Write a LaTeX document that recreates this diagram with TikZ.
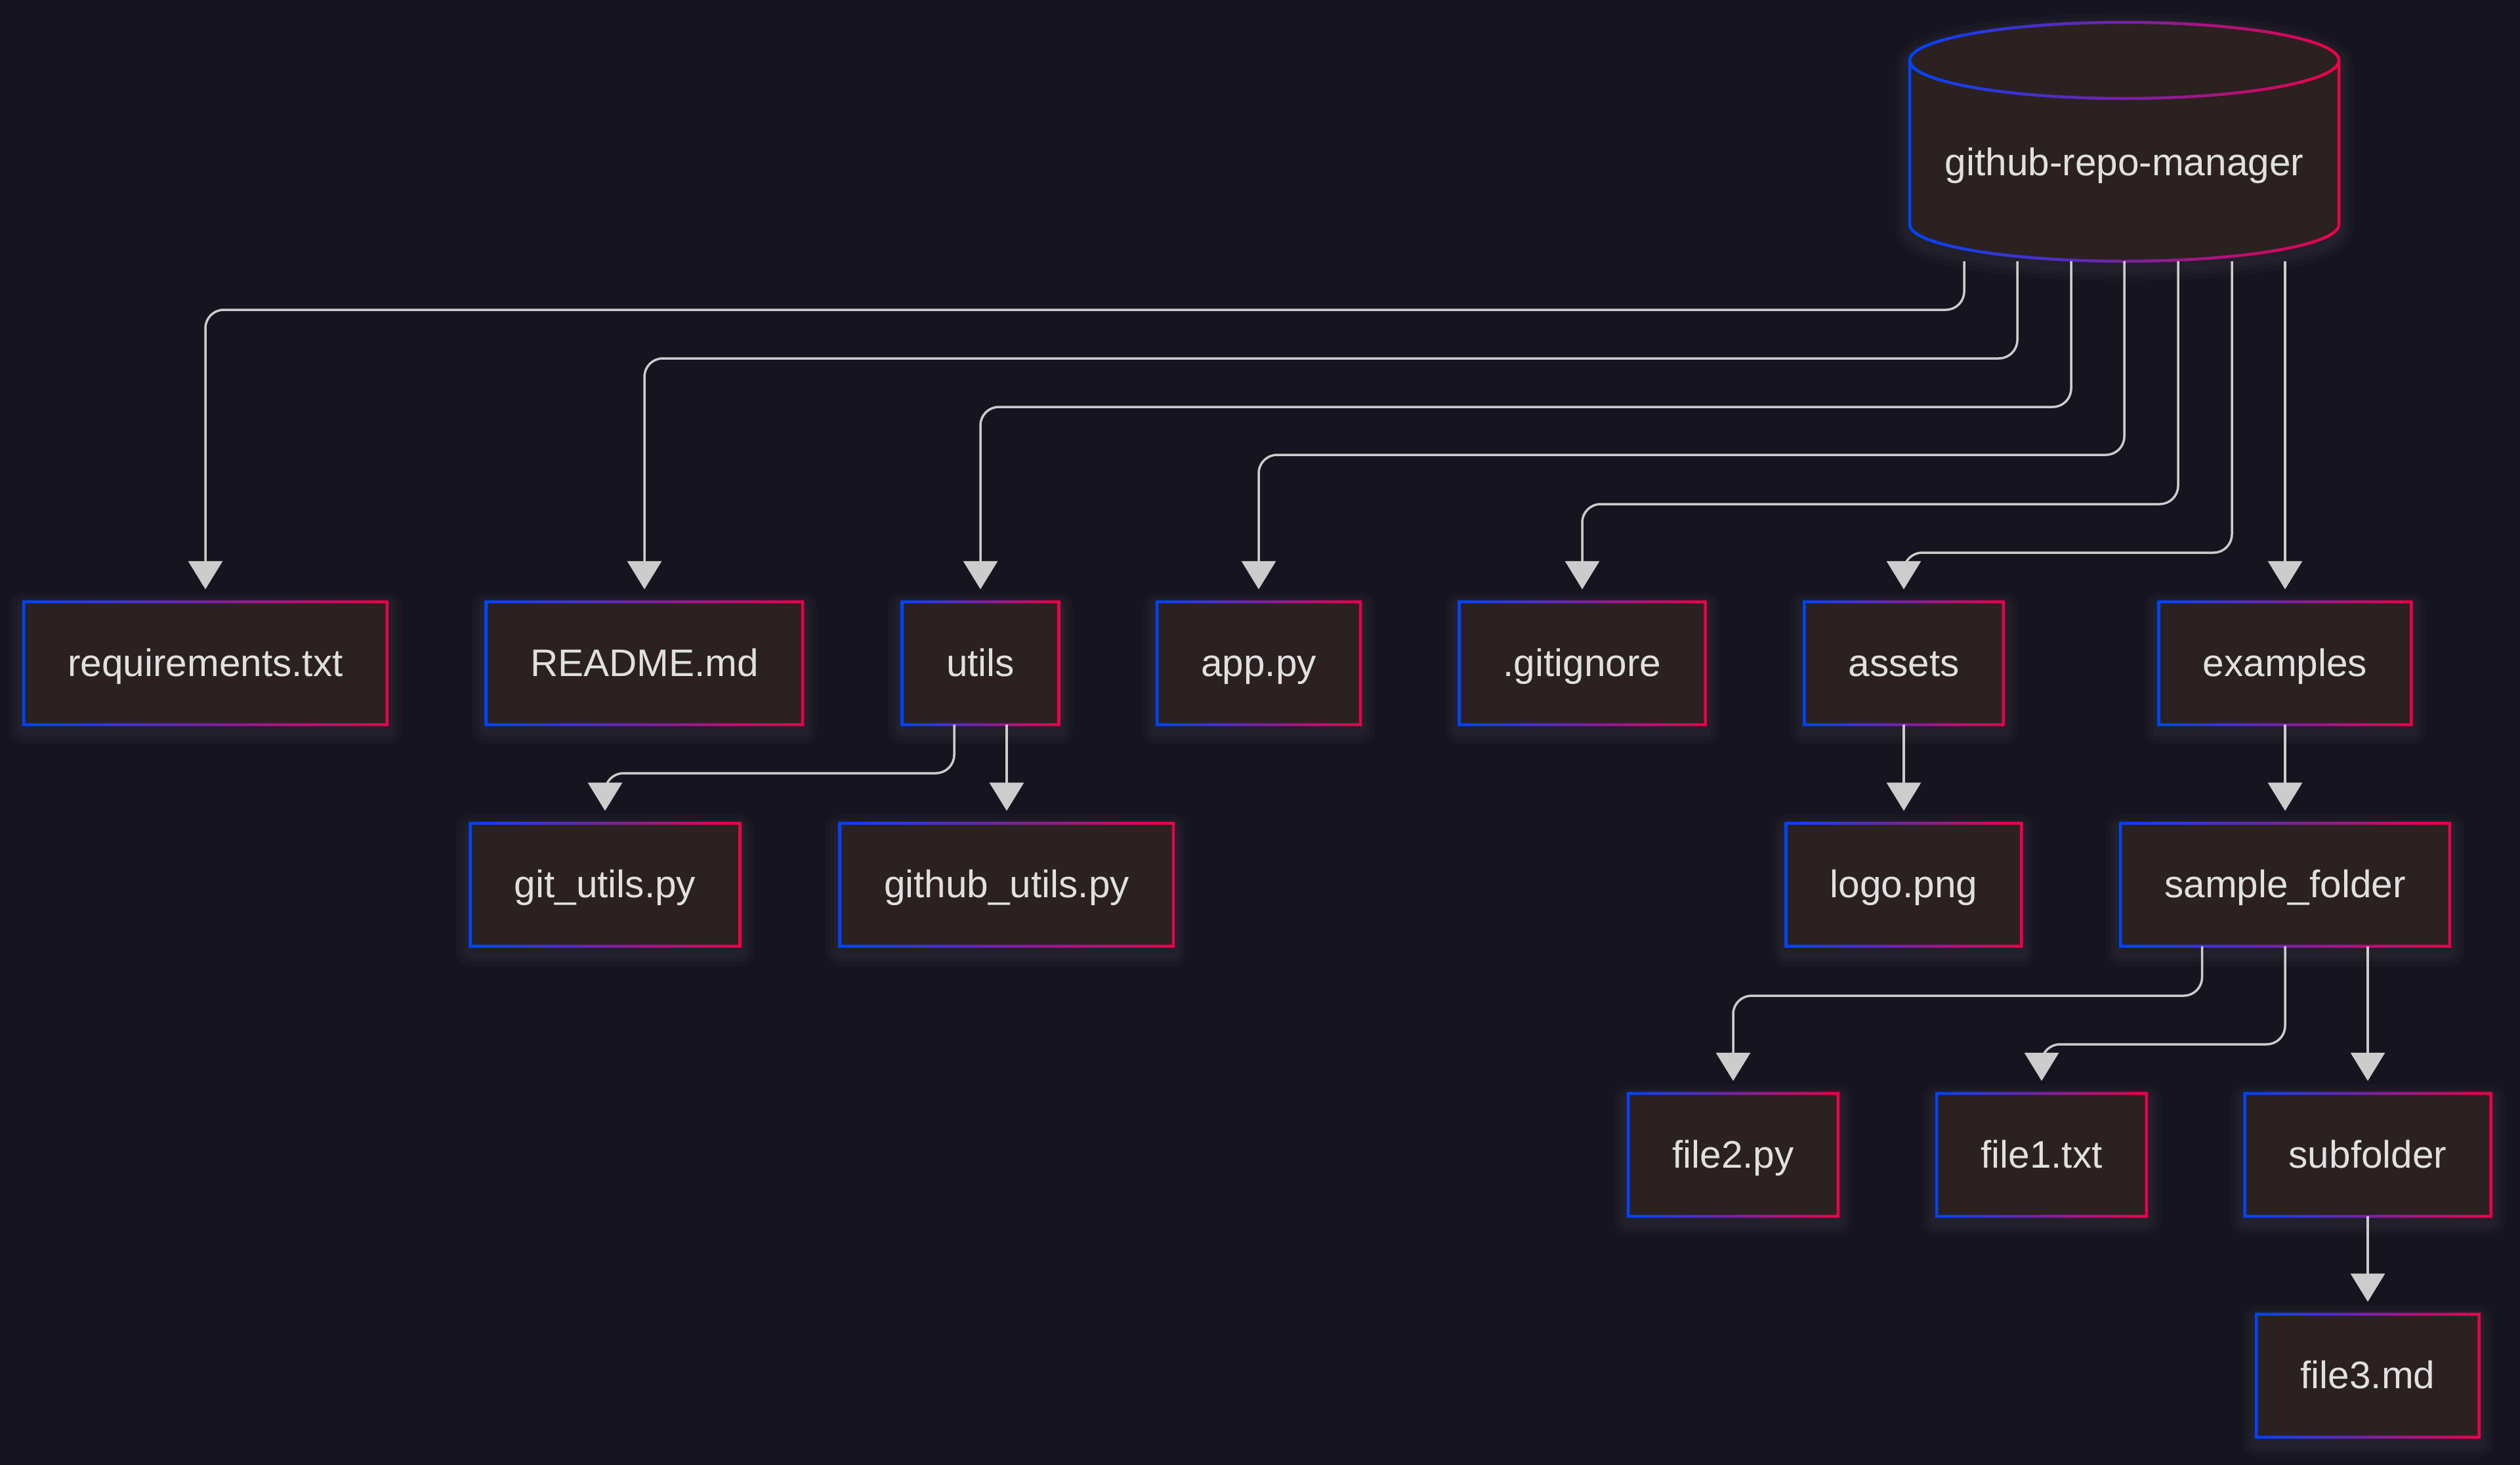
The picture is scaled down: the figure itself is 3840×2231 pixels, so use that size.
\documentclass[tikz,border=0pt]{standalone}
\usepackage{fontspec}
\setmainfont{Liberation Sans}
\usetikzlibrary{calc,arrows.meta}

\definecolor{bgc}{HTML}{16151F}
\definecolor{boxc}{HTML}{2B2121}
\definecolor{txtc}{HTML}{E0E0E0}
\definecolor{linkc}{HTML}{CCCCCC}
\definecolor{cblue}{HTML}{0044FF}
\definecolor{cred}{HTML}{F00048}
\definecolor{glowc}{HTML}{9A9AA8}

\newcommand\boxfont{\fontsize{58.5pt}{70pt}\selectfont}
\newcommand\gradborder[1]{\shade[left color=cblue, right color=cred, even odd rule] ($(#1.south west)+(-2.25,2.25)$) rectangle ($(#1.north east)+(2.25,-2.25)$) ($(#1.south west)+(2.25,-2.25)$) rectangle ($(#1.north east)+(-2.25,2.25)$);}

\tikzset{
    glow/.style={
        preaction={draw=glowc, line width=44pt, opacity=0.03, line join=round, transform canvas={yshift=-8pt}},
        preaction={draw=glowc, line width=30pt, opacity=0.03, line join=round, transform canvas={yshift=-8pt}},
        preaction={draw=glowc, line width=18pt, opacity=0.03, line join=round, transform canvas={yshift=-8pt}}},
    filebox/.style={rectangle, fill=boxc, text=txtc, font=\boxfont, inner xsep=67pt, inner ysep=0pt, minimum height=187pt, text height=45pt, text depth=6pt, glow},
    link/.style={draw=linkc, line width=3.5pt, rounded corners=28pt, -{Triangle[width=52pt,length=43pt]}, shorten >=19pt}
}

\begin{document}
\begin{tikzpicture}[x=1pt, y=-1pt]
    \useasboundingbox (0,0) rectangle (3840,2231);
    \fill[bgc] (-20,-20) rectangle (3860,2251);
    % repository root
    \path[glow, fill=boxc] (2910,92) -- (2910,342) arc[start angle=180, end angle=0, x radius=327, y radius=56] -- (3564,92) arc[start angle=0, end angle=-180, x radius=327, y radius=58] -- cycle;
    \foreach \i in {0,...,39}{
        \pgfmathtruncatemacro\p{100*\i/39}
        \begin{scope}
            \clip (2900+\i*16.75,20) rectangle ++(17.5,390);
            \draw[cred!\p!cblue, line width=4.5pt] (2910,92) -- (2910,342) arc[start angle=180, end angle=0, x radius=327, y radius=56] -- (3564,92) arc[start angle=0, end angle=-180, x radius=327, y radius=58] -- cycle (2910,92) arc[start angle=180, end angle=0, x radius=327, y radius=58];
        \end{scope}
    }
    \node[text=txtc, font=\boxfont, text height=45pt, text depth=6pt, minimum width=654pt, minimum height=301pt] at (3237,247.5) (db) {github-repo-manager};
    % first level
    \node[filebox] at (313,1010.5) (req) {requirements.txt};
    \node[filebox] at (982,1010.5) (readme) {README.md};
    \node[filebox] at (1494,1010.5) (utils) {utils};
    \node[filebox] at (1918,1010.5) (app) {app.py};
    \node[filebox] at (2411,1010.5) (gitig) {.gitignore};
    \node[filebox] at (2901,1010.5) (assets) {assets};
    \node[filebox] at (3482,1010.5) (ex) {examples};
    % second level
    \node[filebox] at (922,1348) (gitu) {git\_utils.py};
    \node[filebox] at (1534,1348) (ghu) {github\_utils.py};
    \node[filebox] at (2901,1348) (logo) {logo.png};
    \node[filebox] at (3482,1348) (sf) {sample\_folder};
    % third level
    \node[filebox] at (2641,1759.5) (file2) {file2.py};
    \node[filebox] at (3111,1759.5) (file1) {file1.txt};
    \node[filebox] at (3608,1759.5) (sub) {subfolder};
    \node[filebox] at (3608,2096) (file3) {file3.md};
    \foreach \n in {req,readme,utils,app,gitig,assets,ex,gitu,ghu,logo,sf,file2,file1,sub,file3}{\gradborder{\n}}
    % links
    \draw[link] ($(db.south)+(-244,0)$) |- (req.north |- 0,472) -- (req.north);
    \draw[link] ($(db.south)+(-163,0)$) |- (readme.north |- 0,546) -- (readme.north);
    \draw[link] ($(db.south)+(-81,0)$) |- (utils.north |- 0,620) -- (utils.north);
    \draw[link] (db.south) |- (app.north |- 0,693) -- (app.north);
    \draw[link] ($(db.south)+(82,0)$) |- (gitig.north |- 0,768) -- (gitig.north);
    \draw[link] ($(db.south)+(164,0)$) |- (assets.north |- 0,842) -- (assets.north);
    \draw[link] (ex.north |- db.south) -- (ex.north);
    \draw[link] ($(utils.south)+(-40,0)$) |- (gitu.north |- 0,1178) -- (gitu.north);
    \draw[link] (ghu.north |- utils.south) -- (ghu.north);
    \draw[link] (assets.south) -- (logo.north);
    \draw[link] (ex.south) -- (sf.north);
    \draw[link] ($(sf.south)+(-126.5,0)$) |- (file2.north |- 0,1517) -- (file2.north);
    \draw[link] (sf.south) |- (file1.north |- 0,1591) -- (file1.north);
    \draw[link] (sub.north |- sf.south) -- (sub.north);
    \draw[link] (sub.south) -- (file3.north);
\end{tikzpicture}
\end{document}
